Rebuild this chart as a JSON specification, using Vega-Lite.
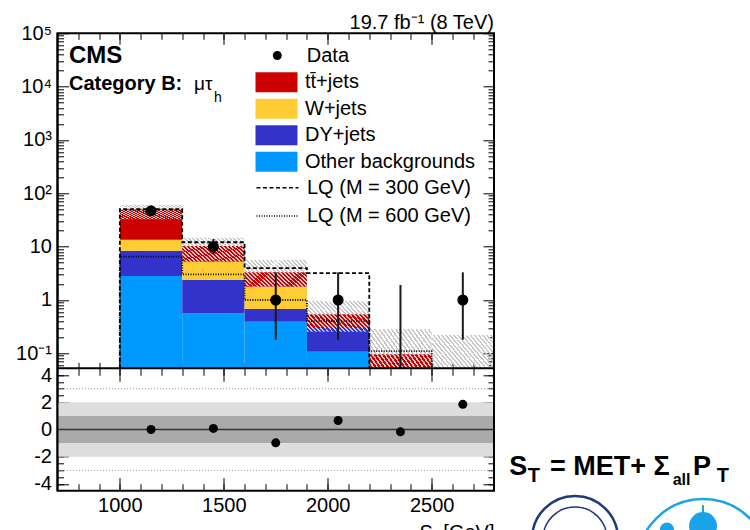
{
"$schema":"https://vega.github.io/schema/vega-lite/v6.json",
"width":436.5,"height":457.4,
"autosize":{"type":"none"},
"padding":{"left":57.5,"top":33.3,"right":256,"bottom":39.3},
"background":"white",
"config":{"font":"Liberation Sans","view":{"stroke":"black","strokeWidth":2},
 "axis":{"domain":false,"grid":false,"zindex":1,"labelFontSize":20,"labelColor":"black","tickColor":"black","tickWidth":1,"titleFontSize":20,"titleFontWeight":"normal","titleColor":"black","labelFlush":false,"labelOverlap":false,"labelBound":false}},
"datasets":{
 "bkg":[
  {"lo":1000,"hi":1300,"process":"Other backgrounds","b":0.0524,"t":2.82},
  {"lo":1000,"hi":1300,"process":"DY+jets","b":2.82,"t":8.4},
  {"lo":1000,"hi":1300,"process":"W+jets","b":8.4,"t":13.4},
  {"lo":1000,"hi":1300,"process":"tt̄+jets","b":13.4,"t":50.3},
  {"lo":1300,"hi":1600,"process":"Other backgrounds","b":0.0524,"t":0.56},
  {"lo":1300,"hi":1600,"process":"DY+jets","b":0.56,"t":2.37},
  {"lo":1300,"hi":1600,"process":"W+jets","b":2.37,"t":5.2},
  {"lo":1300,"hi":1600,"process":"tt̄+jets","b":5.2,"t":10.3},
  {"lo":1600,"hi":1900,"process":"Other backgrounds","b":0.0524,"t":0.39},
  {"lo":1600,"hi":1900,"process":"DY+jets","b":0.39,"t":0.68},
  {"lo":1600,"hi":1900,"process":"W+jets","b":0.68,"t":1.78},
  {"lo":1600,"hi":1900,"process":"tt̄+jets","b":1.78,"t":3.3},
  {"lo":1900,"hi":2200,"process":"Other backgrounds","b":0.0524,"t":0.107},
  {"lo":1900,"hi":2200,"process":"DY+jets","b":0.107,"t":0.30},
  {"lo":1900,"hi":2200,"process":"tt̄+jets","b":0.30,"t":0.54},
  {"lo":2200,"hi":2500,"process":"tt̄+jets","b":0.0524,"t":0.096}
 ],
 "hatch":[
  {"lo":1000,"hi":1300,"b":32.5,"t":60.7},
  {"lo":1300,"hi":1600,"b":5.2,"t":14.7},
  {"lo":1600,"hi":1900,"b":1.78,"t":5.6},
  {"lo":1900,"hi":2200,"b":0.255,"t":0.957},
  {"lo":2200,"hi":2500,"b":0.0524,"t":0.286},
  {"lo":2500,"hi":2800,"b":0.0524,"t":0.22}
 ],
 "lq":[
  {"signal":"LQ (M = 300 GeV)","i":0,"x":1000,"y":0.0524},
  {"signal":"LQ (M = 300 GeV)","i":1,"x":1000,"y":50.3},
  {"signal":"LQ (M = 300 GeV)","i":2,"x":1300,"y":12.1},
  {"signal":"LQ (M = 300 GeV)","i":3,"x":1600,"y":3.95},
  {"signal":"LQ (M = 300 GeV)","i":4,"x":1900,"y":3.2},
  {"signal":"LQ (M = 300 GeV)","i":5,"x":2200,"y":0.0524},
  {"signal":"LQ (M = 600 GeV)","i":0,"x":1000,"y":0.0524},
  {"signal":"LQ (M = 600 GeV)","i":1,"x":1000,"y":6.5},
  {"signal":"LQ (M = 600 GeV)","i":2,"x":1300,"y":3.03},
  {"signal":"LQ (M = 600 GeV)","i":3,"x":1600,"y":1.0},
  {"signal":"LQ (M = 600 GeV)","i":4,"x":1900,"y":0.40},
  {"signal":"LQ (M = 600 GeV)","i":5,"x":2200,"y":0.11},
  {"signal":"LQ (M = 600 GeV)","i":6,"x":2500,"y":0.0524}
 ],
 "obs":[
  {"x":1150,"n":47,"lo":40.2,"hi":54.6},
  {"x":1450,"n":10,"lo":7.2,"hi":13.9},
  {"x":1750,"n":1,"lo":0.18,"hi":3.3},
  {"x":2050,"n":1,"lo":0.18,"hi":3.3},
  {"x":2350,"n":null,"lo":0.0524,"hi":1.91},
  {"x":2650,"n":1,"lo":0.18,"hi":3.3}
 ],
 "pull":[{"x":1150,"p":0.0},{"x":1450,"p":0.08},{"x":1750,"p":-0.98},{"x":2050,"p":0.66},{"x":2350,"p":-0.17},{"x":2650,"p":1.85}],
 "bands":[{"band":"2","lo":-2,"hi":2},{"band":"1","lo":-1,"hi":1}],
 "sig3":[{"v":3},{"v":-3}],
 "one":[{}]
},
"layer":[
 {
  "layer":[
   {"data":{"name":"bkg"},"mark":{"type":"bar","strokeWidth":0},
    "encoding":{
     "x":{"field":"lo","type":"quantitative","scale":{"domain":[700,2800],"nice":false,"zero":false},"axis":null},
     "x2":{"field":"hi"},
     "y":{"field":"b","type":"quantitative","stack":null,"scale":{"type":"log","domain":[0.0524,100000],"range":[335,0],"nice":false},"axis":null},
     "y2":{"field":"t"},
     "color":{"field":"process","type":"nominal","scale":{"domain":["tt̄+jets","W+jets","DY+jets","Other backgrounds"],"range":["#cc0000","#ffcc33","#3333cc","#0099ff"]},
      "legend":{"title":null,"orient":"none","legendX":209,"legendY":39,"symbolType":"M-2.1,-1H2.1V1H-2.1Z","symbolSize":400,"symbolStrokeWidth":0,"symbolOpacity":1,"labelFontSize":20,"labelColor":"black","labelOffset":18.5,"rowPadding":6.5,"padding":0,"labelLimit":300}}
    }},
   {"data":{"name":"hatch"},"mark":{"type":"bar","strokeWidth":0,"fill":{"gradient":"linear","x1":0,"y1":1,"x2":1.2058,"y2":0.4574,"stops":[
{"offset":0,"color":"#c8c8c8"},{"offset":0.0205,"color":"#c8c8c8"},{"offset":0.0205,"color":"rgba(200,200,200,0)"},{"offset":0.0455,"color":"rgba(200,200,200,0)"},
{"offset":0.0455,"color":"#c8c8c8"},{"offset":0.0659,"color":"#c8c8c8"},{"offset":0.0659,"color":"rgba(200,200,200,0)"},{"offset":0.0909,"color":"rgba(200,200,200,0)"},
{"offset":0.0909,"color":"#c8c8c8"},{"offset":0.1114,"color":"#c8c8c8"},{"offset":0.1114,"color":"rgba(200,200,200,0)"},{"offset":0.1364,"color":"rgba(200,200,200,0)"},
{"offset":0.1364,"color":"#c8c8c8"},{"offset":0.1568,"color":"#c8c8c8"},{"offset":0.1568,"color":"rgba(200,200,200,0)"},{"offset":0.1818,"color":"rgba(200,200,200,0)"},
{"offset":0.1818,"color":"#c8c8c8"},{"offset":0.2023,"color":"#c8c8c8"},{"offset":0.2023,"color":"rgba(200,200,200,0)"},{"offset":0.2273,"color":"rgba(200,200,200,0)"},
{"offset":0.2273,"color":"#c8c8c8"},{"offset":0.2477,"color":"#c8c8c8"},{"offset":0.2477,"color":"rgba(200,200,200,0)"},{"offset":0.2727,"color":"rgba(200,200,200,0)"},
{"offset":0.2727,"color":"#c8c8c8"},{"offset":0.2932,"color":"#c8c8c8"},{"offset":0.2932,"color":"rgba(200,200,200,0)"},{"offset":0.3182,"color":"rgba(200,200,200,0)"},
{"offset":0.3182,"color":"#c8c8c8"},{"offset":0.3386,"color":"#c8c8c8"},{"offset":0.3386,"color":"rgba(200,200,200,0)"},{"offset":0.3636,"color":"rgba(200,200,200,0)"},
{"offset":0.3636,"color":"#c8c8c8"},{"offset":0.3841,"color":"#c8c8c8"},{"offset":0.3841,"color":"rgba(200,200,200,0)"},{"offset":0.4091,"color":"rgba(200,200,200,0)"},
{"offset":0.4091,"color":"#c8c8c8"},{"offset":0.4295,"color":"#c8c8c8"},{"offset":0.4295,"color":"rgba(200,200,200,0)"},{"offset":0.4545,"color":"rgba(200,200,200,0)"},
{"offset":0.4545,"color":"#c8c8c8"},{"offset":0.475,"color":"#c8c8c8"},{"offset":0.475,"color":"rgba(200,200,200,0)"},{"offset":0.5,"color":"rgba(200,200,200,0)"},
{"offset":0.5,"color":"#c8c8c8"},{"offset":0.5205,"color":"#c8c8c8"},{"offset":0.5205,"color":"rgba(200,200,200,0)"},{"offset":0.5455,"color":"rgba(200,200,200,0)"},
{"offset":0.5455,"color":"#c8c8c8"},{"offset":0.5659,"color":"#c8c8c8"},{"offset":0.5659,"color":"rgba(200,200,200,0)"},{"offset":0.5909,"color":"rgba(200,200,200,0)"},
{"offset":0.5909,"color":"#c8c8c8"},{"offset":0.6114,"color":"#c8c8c8"},{"offset":0.6114,"color":"rgba(200,200,200,0)"},{"offset":0.6364,"color":"rgba(200,200,200,0)"},
{"offset":0.6364,"color":"#c8c8c8"},{"offset":0.6568,"color":"#c8c8c8"},{"offset":0.6568,"color":"rgba(200,200,200,0)"},{"offset":0.6818,"color":"rgba(200,200,200,0)"},
{"offset":0.6818,"color":"#c8c8c8"},{"offset":0.7023,"color":"#c8c8c8"},{"offset":0.7023,"color":"rgba(200,200,200,0)"},{"offset":0.7273,"color":"rgba(200,200,200,0)"},
{"offset":0.7273,"color":"#c8c8c8"},{"offset":0.7477,"color":"#c8c8c8"},{"offset":0.7477,"color":"rgba(200,200,200,0)"},{"offset":0.7727,"color":"rgba(200,200,200,0)"},
{"offset":0.7727,"color":"#c8c8c8"},{"offset":0.7932,"color":"#c8c8c8"},{"offset":0.7932,"color":"rgba(200,200,200,0)"},{"offset":0.8182,"color":"rgba(200,200,200,0)"},
{"offset":0.8182,"color":"#c8c8c8"},{"offset":0.8386,"color":"#c8c8c8"},{"offset":0.8386,"color":"rgba(200,200,200,0)"},{"offset":0.8636,"color":"rgba(200,200,200,0)"},
{"offset":0.8636,"color":"#c8c8c8"},{"offset":0.8841,"color":"#c8c8c8"},{"offset":0.8841,"color":"rgba(200,200,200,0)"},{"offset":0.9091,"color":"rgba(200,200,200,0)"},
{"offset":0.9091,"color":"#c8c8c8"},{"offset":0.9295,"color":"#c8c8c8"},{"offset":0.9295,"color":"rgba(200,200,200,0)"},{"offset":0.9545,"color":"rgba(200,200,200,0)"},
{"offset":0.9545,"color":"#c8c8c8"},{"offset":0.975,"color":"#c8c8c8"},{"offset":0.975,"color":"rgba(200,200,200,0)"},{"offset":1,"color":"rgba(200,200,200,0)"}
]}},
    "encoding":{
     "x":{"field":"lo","type":"quantitative","scale":{"domain":[700,2800],"nice":false,"zero":false},"axis":null},
     "x2":{"field":"hi"},
     "y":{"field":"b","type":"quantitative","stack":null,"scale":{"type":"log","domain":[0.0524,100000],"range":[335,0],"nice":false},"axis":null},
     "y2":{"field":"t"}
    }},
   {"data":{"name":"lq"},"mark":{"type":"line","interpolate":"step-after","color":"black","strokeWidth":1.8},
    "encoding":{
     "x":{"field":"x","type":"quantitative","scale":{"domain":[700,2800],"nice":false,"zero":false},"axis":null},
     "y":{"field":"y","type":"quantitative","scale":{"type":"log","domain":[0.0524,100000],"range":[335,0],"nice":false},"axis":null},
     "order":{"field":"i","type":"quantitative"},
     "strokeDash":{"field":"signal","type":"nominal","scale":{"domain":["LQ (M = 300 GeV)","LQ (M = 600 GeV)"],"range":[[4,2.5],[1,1.5]]},
      "legend":{"title":null,"orient":"none","legendX":209,"legendY":143.4,"symbolType":"M-2.1,0H2.1","symbolSize":400,"symbolStrokeColor":"black","symbolStrokeWidth":1.6,"labelFontSize":20,"labelColor":"black","labelOffset":18.5,"rowPadding":7.3,"padding":0,"labelLimit":300}}
    }},
   {"data":{"name":"obs"},"mark":{"type":"rule","color":"#1a1a1a","strokeWidth":2},
    "encoding":{
     "x":{"field":"x","type":"quantitative","scale":{"domain":[700,2800],"nice":false,"zero":false},"axis":null},
     "y":{"field":"lo","type":"quantitative","scale":{"type":"log","domain":[0.0524,100000],"range":[335,0],"nice":false},"axis":null},
     "y2":{"field":"hi"}
    }},
   {"data":{"name":"obs"},"transform":[{"filter":"datum.n != null"}],"mark":{"type":"point","shape":"circle","filled":true,"color":"black","size":121,"opacity":1},
    "encoding":{
     "x":{"field":"x","type":"quantitative","scale":{"domain":[700,2800],"nice":false,"zero":false},"axis":null},
     "y":{"field":"n","type":"quantitative","scale":{"type":"log","domain":[0.0524,100000],"range":[335,0],"nice":false},"axis":null}
    }},
   {"data":{"name":"one"},"mark":{"type":"rule","color":"black","strokeWidth":2},
    "encoding":{"y":{"datum":0.0524,"type":"quantitative","scale":{"type":"log","domain":[0.0524,100000],"range":[335,0],"nice":false},"axis":null}}},
   {"data":{"values":[]},"mark":{"type":"point","filled":true,"color":"black","opacity":1},
    "encoding":{"shape":{"datum":"Data","type":"nominal","scale":{"range":["M0,-1.1V1.1M-0.45,0A0.45,0.45,0,1,1,0.45,0A0.45,0.45,0,1,1,-0.45,0Z"]},
     "legend":{"title":null,"orient":"none","legendX":208.8,"legendY":11.2,"symbolSize":400,"symbolFillColor":"black","symbolStrokeColor":"black","symbolStrokeWidth":1.5,"symbolOpacity":1,"labelFontSize":20,"labelColor":"black","labelOffset":18.5,"padding":0,"labelLimit":300}}}},
   {"data":{"name":"one"},"mark":{"type":"text","text":"CMS","fontSize":24,"fontWeight":"bold","align":"left","baseline":"alphabetic","color":"black"},
    "encoding":{"x":{"datum":755,"type":"quantitative","scale":{"domain":[700,2800],"nice":false,"zero":false},"axis":null},
     "y":{"datum":27200,"type":"quantitative","scale":{"type":"log","domain":[0.0524,100000],"range":[335,0],"nice":false},"axis":null}}},
   {"data":{"name":"one"},"mark":{"type":"text","text":"Category B:","fontSize":20,"fontWeight":"bold","align":"left","baseline":"alphabetic","color":"black"},
    "encoding":{"x":{"datum":755,"type":"quantitative","scale":{"domain":[700,2800],"nice":false,"zero":false},"axis":null},
     "y":{"datum":8665,"type":"quantitative","scale":{"type":"log","domain":[0.0524,100000],"range":[335,0],"nice":false},"axis":null}}},
   {"data":{"name":"one"},"mark":{"type":"text","text":"μτ","fontSize":19,"align":"left","baseline":"alphabetic","color":"black"},
    "encoding":{"x":{"datum":1356.7,"type":"quantitative","scale":{"domain":[700,2800],"nice":false,"zero":false},"axis":null},
     "y":{"datum":8665,"type":"quantitative","scale":{"type":"log","domain":[0.0524,100000],"range":[335,0],"nice":false},"axis":null}}},
   {"data":{"name":"one"},"mark":{"type":"text","text":"h","fontSize":14,"align":"left","baseline":"alphabetic","color":"black"},
    "encoding":{"x":{"datum":1453,"type":"quantitative","scale":{"domain":[700,2800],"nice":false,"zero":false},"axis":null},
     "y":{"datum":5226,"type":"quantitative","scale":{"type":"log","domain":[0.0524,100000],"range":[335,0],"nice":false},"axis":null}}},
   {"data":{"name":"one"},"mark":{"type":"text","text":"19.7 fb⁻¹ (8 TeV)","fontSize":20,"align":"right","baseline":"alphabetic","color":"black"},
    "encoding":{"x":{"datum":2800,"type":"quantitative","scale":{"domain":[700,2800],"nice":false,"zero":false},"axis":null},
     "y":{"datum":119000,"type":"quantitative","scale":{"type":"log","domain":[0.0524,100000],"range":[335,0],"nice":false},"axis":null}}},
   {"data":{"name":"one"},"mark":{"type":"point","opacity":0},
    "encoding":{
     "x":{"datum":1000,"type":"quantitative","scale":{"domain":[700,2800],"nice":false,"zero":false},"axis":{"orient":"top","values":[1000,1500,2000,2500],"labels":false,"tickSize":-11,"title":null}},
     "y":{"datum":1,"type":"quantitative","scale":{"type":"log","domain":[0.0524,100000],"range":[335,0],"nice":false},"axis":{"orient":"left","values":[0.1,1,10,100,1000,10000,100000],"ticks":false,"labelPadding":6,"title":null,"labelExpr":"datum.value < 0.5 ? '10⁻¹' : datum.value < 5 ? '1' : datum.value < 50 ? '10' : datum.value < 500 ? '10²' : datum.value < 5000 ? '10³' : datum.value < 50000 ? '10⁴' : '10⁵'"}}
    }},
   {"data":{"name":"one"},"mark":{"type":"point","opacity":0},
    "encoding":{
     "x":{"datum":1000,"type":"quantitative","scale":{"domain":[700,2800],"nice":false,"zero":false},"axis":{"orient":"top","values":[800,900,1000,1100,1200,1300,1400,1500,1600,1700,1800,1900,2000,2100,2200,2300,2400,2500,2600,2700],"labels":false,"tickSize":-6,"title":null}},
     "y":{"datum":1,"type":"quantitative","scale":{"type":"log","domain":[0.0524,100000],"range":[335,0],"nice":false},"axis":{"orient":"left","values":[0.1,1,10,100,1000,10000,100000],"labels":false,"tickSize":-11,"title":null}}
    }},
   {"data":{"name":"one"},"mark":{"type":"point","opacity":0},
    "encoding":{
     "x":{"datum":1000,"type":"quantitative","scale":{"domain":[700,2800],"nice":false,"zero":false},"axis":{"orient":"bottom","offset":-122.4,"values":[1000,1500,2000,2500],"labels":false,"tickSize":-11,"title":null}},
     "y":{"datum":1,"type":"quantitative","scale":{"type":"log","domain":[0.0524,100000],"range":[335,0],"nice":false},"axis":{"orient":"left","values":[0.06,0.07,0.08,0.09,0.2,0.3,0.4,0.5,0.6,0.7,0.8,0.9,2,3,4,5,6,7,8,9,20,30,40,50,60,70,80,90,200,300,400,500,600,700,800,900,2000,3000,4000,5000,6000,7000,8000,9000,20000,30000,40000,50000,60000,70000,80000,90000],"labels":false,"tickSize":-6,"title":null}}
    }},
   {"data":{"name":"one"},"mark":{"type":"point","opacity":0},
    "encoding":{
     "x":{"datum":1000,"type":"quantitative","scale":{"domain":[700,2800],"nice":false,"zero":false},"axis":{"orient":"bottom","offset":-122.4,"values":[800,900,1000,1100,1200,1300,1400,1500,1600,1700,1800,1900,2000,2100,2200,2300,2400,2500,2600,2700],"labels":false,"tickSize":-6,"title":null}},
     "y":{"datum":1,"type":"quantitative","scale":{"type":"log","domain":[0.0524,100000],"range":[335,0],"nice":false},"axis":{"orient":"right","values":[0.1,1,10,100,1000,10000,100000],"labels":false,"tickSize":-11,"title":null}}
    }},
   {"data":{"name":"one"},"mark":{"type":"point","opacity":0},
    "encoding":{
     "y":{"datum":1,"type":"quantitative","scale":{"type":"log","domain":[0.0524,100000],"range":[335,0],"nice":false},"axis":{"orient":"right","values":[0.06,0.07,0.08,0.09,0.2,0.3,0.4,0.5,0.6,0.7,0.8,0.9,2,3,4,5,6,7,8,9,20,30,40,50,60,70,80,90,200,300,400,500,600,700,800,900,2000,3000,4000,5000,6000,7000,8000,9000,20000,30000,40000,50000,60000,70000,80000,90000],"labels":false,"tickSize":-6,"title":null}}
    }}
  ],
  "resolve":{"axis":{"x":"independent","y":"independent"}}
 },
 {
  "layer":[
   {"data":{"name":"bands"},"mark":{"type":"rect","strokeWidth":0},
    "encoding":{
     "y":{"field":"lo","type":"quantitative","scale":{"domain":[-4.5,4.5],"range":[457.4,335],"nice":false,"zero":false},"axis":null},
     "y2":{"field":"hi"},
     "fill":{"field":"band","type":"nominal","scale":{"domain":["2","1"],"range":["#dddddd","#aaaaaa"]},"legend":null}
    }},
   {"data":{"name":"sig3"},"mark":{"type":"rule","color":"#999999","strokeWidth":1,"strokeDash":[1,2]},
    "encoding":{"y":{"field":"v","type":"quantitative","scale":{"domain":[-4.5,4.5],"range":[457.4,335],"nice":false,"zero":false},"axis":null}}},
   {"data":{"name":"one"},"mark":{"type":"rule","color":"#333333","strokeWidth":1.5},
    "encoding":{"y":{"datum":0,"type":"quantitative","scale":{"domain":[-4.5,4.5],"range":[457.4,335],"nice":false,"zero":false},"axis":null}}},
   {"data":{"name":"pull"},"mark":{"type":"point","shape":"circle","filled":true,"color":"black","size":81,"opacity":1},
    "encoding":{
     "x":{"field":"x","type":"quantitative","scale":{"domain":[700,2800],"nice":false,"zero":false},"axis":null},
     "y":{"field":"p","type":"quantitative","scale":{"domain":[-4.5,4.5],"range":[457.4,335],"nice":false,"zero":false},"axis":null}
    }},
   {"data":{"name":"one"},"mark":{"type":"rule","color":"black","strokeWidth":2},
    "encoding":{"x":{"datum":700,"type":"quantitative","scale":{"domain":[700,2800],"nice":false,"zero":false},"axis":null}}},
   {"data":{"name":"one"},"mark":{"type":"rule","color":"black","strokeWidth":2},
    "encoding":{"x":{"datum":2800,"type":"quantitative","scale":{"domain":[700,2800],"nice":false,"zero":false},"axis":null}}},
   {"data":{"name":"one"},"mark":{"type":"text","text":"S","fontSize":27,"fontWeight":"bold","align":"left","baseline":"alphabetic","color":"black"},
    "encoding":{"x":{"datum":2873.6,"type":"quantitative","scale":{"domain":[700,2800],"nice":false,"zero":false},"axis":null},
     "y":{"datum":-3.346,"type":"quantitative","scale":{"domain":[-4.5,4.5],"range":[457.4,335],"nice":false,"zero":false},"axis":null}}},
   {"data":{"name":"one"},"mark":{"type":"text","text":"T","fontSize":20,"fontWeight":"bold","align":"left","baseline":"alphabetic","color":"black"},
    "encoding":{"x":{"datum":2962,"type":"quantitative","scale":{"domain":[700,2800],"nice":false,"zero":false},"axis":null},
     "y":{"datum":-3.838,"type":"quantitative","scale":{"domain":[-4.5,4.5],"range":[457.4,335],"nice":false,"zero":false},"axis":null}}},
   {"data":{"name":"one"},"mark":{"type":"text","text":"= MET+ Σ","fontSize":27,"fontWeight":"bold","align":"left","baseline":"alphabetic","color":"black"},
    "encoding":{"x":{"datum":3069.4,"type":"quantitative","scale":{"domain":[700,2800],"nice":false,"zero":false},"axis":null},
     "y":{"datum":-3.346,"type":"quantitative","scale":{"domain":[-4.5,4.5],"range":[457.4,335],"nice":false,"zero":false},"axis":null}}},
   {"data":{"name":"one"},"mark":{"type":"text","text":"all","fontSize":16,"fontWeight":"bold","align":"left","baseline":"alphabetic","color":"black"},
    "encoding":{"x":{"datum":3659.7,"type":"quantitative","scale":{"domain":[700,2800],"nice":false,"zero":false},"axis":null},
     "y":{"datum":-4.081,"type":"quantitative","scale":{"domain":[-4.5,4.5],"range":[457.4,335],"nice":false,"zero":false},"axis":null}}},
   {"data":{"name":"one"},"mark":{"type":"text","text":"P","fontSize":27,"fontWeight":"bold","align":"left","baseline":"alphabetic","color":"black"},
    "encoding":{"x":{"datum":3757.4,"type":"quantitative","scale":{"domain":[700,2800],"nice":false,"zero":false},"axis":null},
     "y":{"datum":-3.346,"type":"quantitative","scale":{"domain":[-4.5,4.5],"range":[457.4,335],"nice":false,"zero":false},"axis":null}}},
   {"data":{"name":"one"},"mark":{"type":"text","text":"T","fontSize":20,"fontWeight":"bold","align":"left","baseline":"alphabetic","color":"black"},
    "encoding":{"x":{"datum":3871.4,"type":"quantitative","scale":{"domain":[700,2800],"nice":false,"zero":false},"axis":null},
     "y":{"datum":-3.838,"type":"quantitative","scale":{"domain":[-4.5,4.5],"range":[457.4,335],"nice":false,"zero":false},"axis":null}}},
   {"data":{"name":"one"},"mark":{"type":"point","shape":"circle","size":7396,"filled":false,"stroke":"#1d3b7a","strokeWidth":2.5,"opacity":1},
    "encoding":{"x":{"datum":3189.7,"type":"quantitative","scale":{"domain":[700,2800],"nice":false,"zero":false},"axis":null},
     "y":{"datum":-8.05,"type":"quantitative","scale":{"domain":[-4.5,4.5],"range":[457.4,335],"nice":false,"zero":false},"axis":null}}},
   {"data":{"name":"one"},"mark":{"type":"point","shape":"circle","size":4096,"filled":false,"stroke":"#1d3b7a","strokeWidth":1.5,"opacity":1},
    "encoding":{"x":{"datum":3189.7,"type":"quantitative","scale":{"domain":[700,2800],"nice":false,"zero":false},"axis":null},
     "y":{"datum":-8.05,"type":"quantitative","scale":{"domain":[-4.5,4.5],"range":[457.4,335],"nice":false,"zero":false},"axis":null}}},
   {"data":{"name":"one"},"mark":{"type":"point","shape":"circle","size":17424,"filled":false,"stroke":"#1aa3e8","strokeWidth":2.5,"opacity":1},
    "encoding":{"x":{"datum":3805.6,"type":"quantitative","scale":{"domain":[700,2800],"nice":false,"zero":false},"axis":null},
     "y":{"datum":-9.96,"type":"quantitative","scale":{"domain":[-4.5,4.5],"range":[457.4,335],"nice":false,"zero":false},"axis":null}}},
   {"data":{"name":"one"},"mark":{"type":"point","shape":"circle","size":784,"filled":true,"color":"#1aa3e8","opacity":1},
    "encoding":{"x":{"datum":3805.6,"type":"quantitative","scale":{"domain":[700,2800],"nice":false,"zero":false},"axis":null},
     "y":{"datum":-7.1,"type":"quantitative","scale":{"domain":[-4.5,4.5],"range":[457.4,335],"nice":false,"zero":false},"axis":null}}},
   {"data":{"name":"one"},"mark":{"type":"point","shape":"circle","size":196,"filled":true,"color":"#1aa3e8","opacity":1},
    "encoding":{"x":{"datum":3632,"type":"quantitative","scale":{"domain":[700,2800],"nice":false,"zero":false},"axis":null},
     "y":{"datum":-7.35,"type":"quantitative","scale":{"domain":[-4.5,4.5],"range":[457.4,335],"nice":false,"zero":false},"axis":null}}},
   {"data":{"name":"one"},"mark":{"type":"rule","color":"#1aa3e8","strokeWidth":2},
    "encoding":{"x":{"datum":3805.6,"type":"quantitative","scale":{"domain":[700,2800],"nice":false,"zero":false},"axis":null},
     "y":{"datum":-5.56,"type":"quantitative","scale":{"domain":[-4.5,4.5],"range":[457.4,335],"nice":false,"zero":false},"axis":null},
     "y2":{"datum":-6.1}}},
   {"data":{"name":"one"},"mark":{"type":"point","opacity":0},
    "encoding":{
     "x":{"datum":1000,"type":"quantitative","scale":{"domain":[700,2800],"nice":false,"zero":false},"axis":{"orient":"bottom","values":[1000,1500,2000,2500],"ticks":false,"labelPadding":5,"format":"d","title":"Sₜ [GeV]","titleAnchor":"end","titleY":32,"titleBaseline":"top"}},
     "y":{"datum":0,"type":"quantitative","scale":{"domain":[-4.5,4.5],"range":[457.4,335],"nice":false,"zero":false},"axis":{"orient":"left","values":[-4,-2,0,2,4],"ticks":false,"labelPadding":6,"title":null,"labelExpr":"datum.value < 0 ? '-' + abs(datum.value) : '' + datum.value"}}
    }},
   {"data":{"name":"one"},"mark":{"type":"point","opacity":0},
    "encoding":{
     "x":{"datum":1000,"type":"quantitative","scale":{"domain":[700,2800],"nice":false,"zero":false},"axis":{"orient":"bottom","values":[1000,1500,2000,2500],"labels":false,"tickSize":-13,"title":null}},
     "y":{"datum":0,"type":"quantitative","scale":{"domain":[-4.5,4.5],"range":[457.4,335],"nice":false,"zero":false},"axis":{"orient":"left","values":[-4,-2,0,2,4],"labels":false,"tickSize":-11,"title":null}}
    }},
   {"data":{"name":"one"},"mark":{"type":"point","opacity":0},
    "encoding":{
     "x":{"datum":1000,"type":"quantitative","scale":{"domain":[700,2800],"nice":false,"zero":false},"axis":{"orient":"bottom","values":[800,900,1000,1100,1200,1300,1400,1500,1600,1700,1800,1900,2000,2100,2200,2300,2400,2500,2600,2700],"labels":false,"tickSize":-7,"title":null}},
     "y":{"datum":0,"type":"quantitative","scale":{"domain":[-4.5,4.5],"range":[457.4,335],"nice":false,"zero":false},"axis":{"orient":"left","values":[-4,-3.5,-3,-2.5,-2,-1.5,-1,-0.5,0,0.5,1,1.5,2,2.5,3,3.5,4],"labels":false,"tickSize":-6,"title":null}}
    }},
   {"data":{"name":"one"},"mark":{"type":"point","opacity":0},
    "encoding":{
     "x":{"datum":1000,"type":"quantitative","scale":{"domain":[700,2800],"nice":false,"zero":false},"axis":{"orient":"top","offset":-335,"values":[1000,1500,2000,2500],"labels":false,"tickSize":-13,"title":null}},
     "y":{"datum":0,"type":"quantitative","scale":{"domain":[-4.5,4.5],"range":[457.4,335],"nice":false,"zero":false},"axis":{"orient":"right","values":[-4,-2,0,2,4],"labels":false,"tickSize":-11,"title":null}}
    }},
   {"data":{"name":"one"},"mark":{"type":"point","opacity":0},
    "encoding":{
     "x":{"datum":1000,"type":"quantitative","scale":{"domain":[700,2800],"nice":false,"zero":false},"axis":{"orient":"top","offset":-335,"values":[800,900,1000,1100,1200,1300,1400,1500,1600,1700,1800,1900,2000,2100,2200,2300,2400,2500,2600,2700],"labels":false,"tickSize":-7,"title":null}},
     "y":{"datum":0,"type":"quantitative","scale":{"domain":[-4.5,4.5],"range":[457.4,335],"nice":false,"zero":false},"axis":{"orient":"right","values":[-4,-3.5,-3,-2.5,-2,-1.5,-1,-0.5,0,0.5,1,1.5,2,2.5,3,3.5,4],"labels":false,"tickSize":-6,"title":null}}
    }}
  ],
  "resolve":{"axis":{"x":"independent","y":"independent"}}
 }
],
"resolve":{"scale":{"y":"independent"},"axis":{"x":"independent","y":"independent"}}
}
